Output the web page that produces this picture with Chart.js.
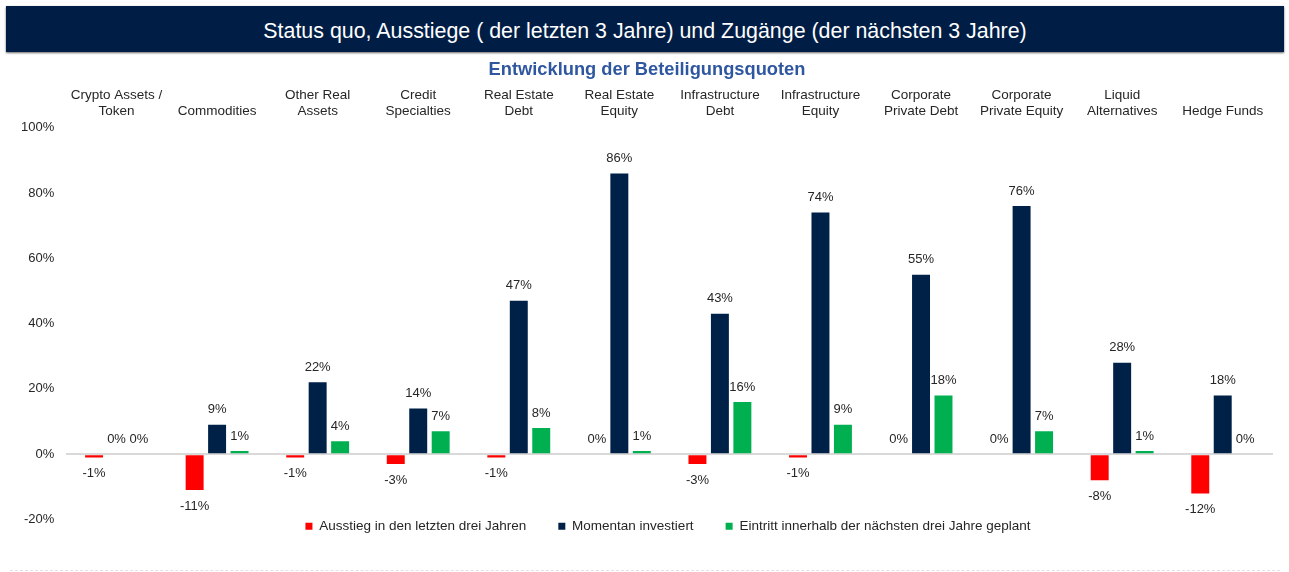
<!DOCTYPE html>
<html><head><meta charset="utf-8">
<script src="https://cdn.jsdelivr.net/npm/chart.js@4"></script>
<style>
html,body{margin:0;padding:0;background:#fff;width:1289px;height:572px;overflow:hidden;font-family:"Liberation Sans",Arial,sans-serif}
#bar{position:absolute;left:6px;top:6px;width:1278px;height:46px;background:#001e45;box-shadow:0 1px 2px #666;color:#fff;font-size:21.4px;line-height:50px;text-align:center}
#wrap{position:absolute;left:0;top:56px;width:1289px;height:519px}
#dash{position:absolute;left:10px;top:570px;width:1270px;border-top:1px dashed #e2e2e2}
</style></head><body>
<div id="bar">Status quo, Ausstiege ( der letzten 3 Jahre) und Zugänge (der nächsten 3 Jahre)</div>
<div id="wrap"><canvas id="c"></canvas></div>
<div id="dash"></div>
<script>
const categories = [["Crypto Assets /","Token"],"Commodities",["Other Real","Assets"],["Credit","Specialties"],["Real Estate","Debt"],["Real Estate","Equity"],["Infrastructure","Debt"],["Infrastructure","Equity"],["Corporate","Private Debt"],["Corporate","Private Equity"],["Liquid","Alternatives"],"Hedge Funds"];
const seriesNames = ["Ausstieg in den letzten drei Jahren","Momentan investiert","Eintritt innerhalb der nächsten drei Jahre geplant"];
const ausstieg = [-1,-11,-1,-3,-1,0,-3,-1,0,0,-8,-12];
const momentan = [0,9,22,14,47,86,43,74,55,76,28,18];
const eintritt = [0,1,4,7,8,1,16,9,18,7,1,0];
const yTicks = [-20,0,20,40,60,80,100];
const colors = ["#ff0000","#002147","#00b050"];

const FONT = "'Liberation Sans', Arial, sans-serif";
const TXT = "#262626";

const labelPlugin = {
  id: 'valueLabels',
  afterDatasetsDraw(chart) {
    const ctx = chart.ctx;
    ctx.save();
    ctx.font = "13px " + FONT;
    ctx.fillStyle = TXT;
    ctx.textAlign = 'center';
    ctx.textBaseline = 'middle';
    chart.data.datasets.forEach((ds, i) => {
      const meta = chart.getDatasetMeta(i);
      meta.data.forEach((el, j) => {
        const v = ds.data[j];
        const y = v < 0 ? el.y + 16 : el.y - 15;
        ctx.fillText(v + '%', el.x, y);
      });
    });
    ctx.restore();
  }
};

const boxShift = {
  id: 'boxShift',
  afterLayout(chart) {
    const l = chart.legend;
    if (l) { l.top -= 32; l.bottom -= 32; l.left += 27; l.right += 27; }
    const t = chart.titleBlock;
    if (t) { t.left += 6; t.right += 6; }
  }
};

new Chart(document.getElementById('c'), {
  type: 'bar',
  data: {
    labels: categories,
    datasets: [
      {label: seriesNames[0], data: ausstieg, backgroundColor: colors[0]},
      {label: seriesNames[1], data: momentan, backgroundColor: colors[1]},
      {label: seriesNames[2], data: eintritt, backgroundColor: colors[2]}
    ].map(d => Object.assign(d, {borderWidth: 0, barPercentage: 0.8, categoryPercentage: 0.67}))
  },
  options: {
    responsive: true,
    maintainAspectRatio: false,
    animation: false,
    layout: {padding: {left: 9, right: 16, top: 0, bottom: 0}},
    plugins: {
      title: {display: true, text: 'Entwicklung der Beteiligungsquoten', color: '#2e57a0',
        font: {size: 18.3, weight: 'bold', family: FONT, lineHeight: 1}, padding: {top: 5, bottom: 0}},
      legend: {position: 'bottom',
        labels: {boxWidth: 7, boxHeight: 7, padding: 32, color: TXT, font: {size: 13.5, family: FONT}}},
      tooltip: {enabled: false}
    },
    scales: {
      x: {position: 'top', grid: {display: false, drawTicks: false}, border: {display: false},
        ticks: {color: TXT, font: {size: 13.5, family: FONT}, padding: 8, maxRotation: 0, autoSkip: false}},
      y: {min: -20, max: 100,
        afterBuildTicks(axis) { axis.ticks = yTicks.map(v => ({value: v})); },
        ticks: {color: TXT, font: {size: 13, family: FONT}, padding: 12, callback: v => v + '%'},
        grid: {drawTicks: false, lineWidth: 2, color: c => c.tick && c.tick.value === 0 ? '#d9d9d9' : 'rgba(0,0,0,0)'},
        border: {display: false}}
    }
  },
  plugins: [labelPlugin, boxShift]
});
</script>
</body></html>
